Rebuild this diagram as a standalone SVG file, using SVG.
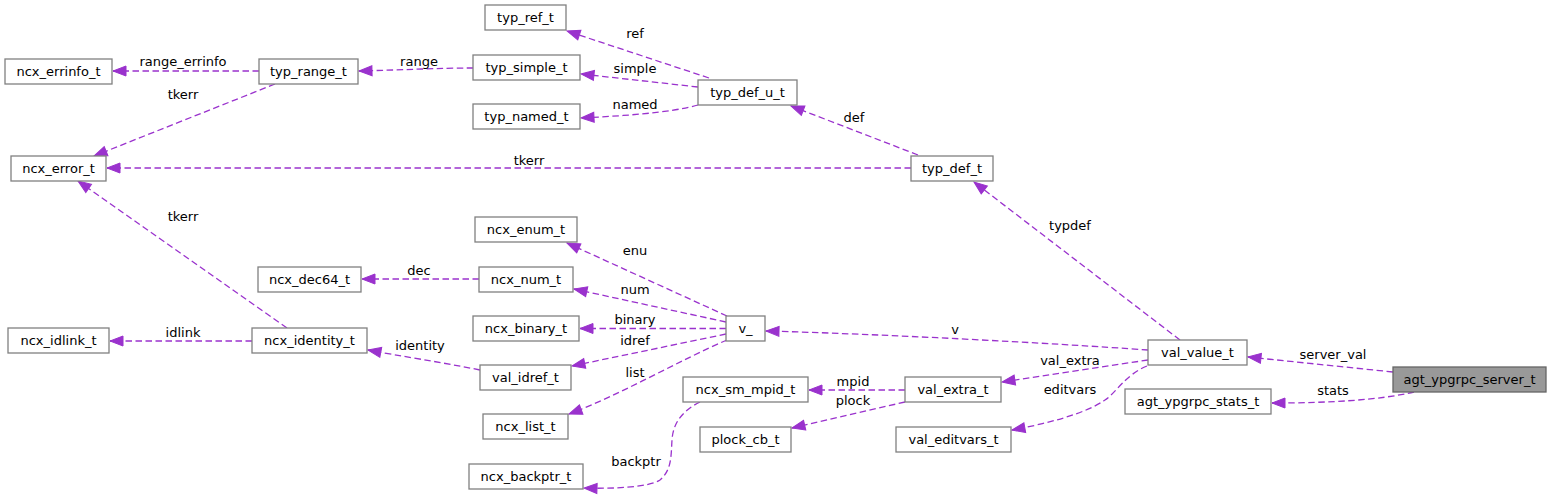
<svg xmlns="http://www.w3.org/2000/svg" width="1551" height="495" viewBox="0 0 1551 495">
<style>
text{font-family:"DejaVu Sans","Liberation Sans",sans-serif;font-size:13px;fill:#000;text-anchor:middle}
.n rect{fill:#fff;stroke:#808080;stroke-width:1.3}
.m rect{fill:#999;stroke:#666;stroke-width:1.3}
.e path{fill:none;stroke:#9a32cd;stroke-width:1.3;stroke-dasharray:6.5,3.5;marker-end:url(#ah)}
</style>
<defs>
<marker id="ah" markerUnits="userSpaceOnUse" markerWidth="14" markerHeight="12" refX="13" refY="5" orient="auto" overflow="visible">
<path d="M0,0 L13,5 L0,10 z" fill="#9a32cd" stroke="#9a32cd" stroke-width="1"/>
</marker>
</defs>
<rect width="1551" height="495" fill="#fff"/>
<g id="edges" class="e">
<path d="M259,71 L113,71"/>
<path d="M275,84 L94,156"/>
<path d="M473,68 C440,68 400,70 359,71"/>
<path d="M709,78 L567,31"/>
<path d="M698,87 L581,74"/>
<path d="M698,105 C670,113 620,116 581,118"/>
<path d="M918,155 L791,106"/>
<path d="M911,168 L107,168"/>
<path d="M1180,340 L974,182"/>
<path d="M1148,350 C1050,343 880,334 766,331"/>
<path d="M1148,360 L1002,382"/>
<path d="M1147,366 C1125,375 1117,392 1105,400 C1085,414 1045,424 1012,430"/>
<path d="M1393,372 L1248,357"/>
<path d="M1414,392 C1380,400 1330,403 1272,403"/>
<path d="M727,316 L567,243"/>
<path d="M726,322 L574,289"/>
<path d="M726,328.5 L580,328.5"/>
<path d="M726,334 L572,366"/>
<path d="M727,340 C680,360 620,395 569,414"/>
<path d="M479,279 L362,279"/>
<path d="M480,370 C440,362 400,356 368,350"/>
<path d="M252,341 L110,341"/>
<path d="M287,328 L78,181"/>
<path d="M905,390 L809,390"/>
<path d="M905,402 L792,428"/>
<path d="M700,402 C680,412 673,425 672,440 C671,455 672,470 660,480 C650,487 615,489 584,488"/>
</g>
<g id="labels">
<text x="183" y="66">range_errinfo</text>
<text x="183" y="99">tkerr</text>
<text x="419" y="66">range</text>
<text x="635" y="38">ref</text>
<text x="635" y="73">simple</text>
<text x="635" y="109">named</text>
<text x="529" y="165">tkerr</text>
<text x="854" y="122">def</text>
<text x="183" y="221">tkerr</text>
<text x="183" y="337">idlink</text>
<text x="419" y="275">dec</text>
<text x="635" y="255">enu</text>
<text x="635" y="294">num</text>
<text x="635" y="324">binary</text>
<text x="420" y="350">identity</text>
<text x="635" y="345">idref</text>
<text x="635" y="377">list</text>
<text x="636" y="466">backptr</text>
<text x="853" y="386">mpid</text>
<text x="853" y="405">plock</text>
<text x="1070" y="230">typdef</text>
<text x="955" y="334">v</text>
<text x="1333" y="359">server_val</text>
<text x="1070" y="365">val_extra</text>
<text x="1070" y="394">editvars</text>
<text x="1333" y="395">stats</text>
</g>
<g id="agt_ypgrpc_server_t" class="m"><rect x="1393" y="367" width="153" height="25"/><text x="1469.5" y="384">agt_ypgrpc_server_t</text></g>
<g id="val_value_t" class="n"><rect x="1148" y="340" width="99" height="25"/><text x="1197.5" y="357">val_value_t</text></g>
<g id="agt_ypgrpc_stats_t" class="n"><rect x="1125" y="389" width="146" height="25"/><text x="1198" y="406">agt_ypgrpc_stats_t</text></g>
<g id="typ_def_t" class="n"><rect x="911" y="156" width="82" height="25"/><text x="952" y="173">typ_def_t</text></g>
<g id="v_" class="n"><rect x="726" y="316" width="39" height="25"/><text x="745.5" y="333">v_</text></g>
<g id="val_extra_t" class="n"><rect x="905" y="377" width="96" height="25"/><text x="953" y="394">val_extra_t</text></g>
<g id="val_editvars_t" class="n"><rect x="896" y="427" width="115" height="25"/><text x="953.5" y="444">val_editvars_t</text></g>
<g id="ncx_error_t" class="n"><rect x="11" y="156" width="95" height="25"/><text x="58.5" y="173">ncx_error_t</text></g>
<g id="typ_def_u_t" class="n"><rect x="698" y="80" width="99" height="25"/><text x="747.5" y="97">typ_def_u_t</text></g>
<g id="typ_ref_t" class="n"><rect x="485" y="5" width="81" height="25"/><text x="525.5" y="22">typ_ref_t</text></g>
<g id="typ_simple_t" class="n"><rect x="473" y="55" width="107" height="25"/><text x="526.5" y="72">typ_simple_t</text></g>
<g id="typ_named_t" class="n"><rect x="473" y="104" width="107" height="25"/><text x="526.5" y="121">typ_named_t</text></g>
<g id="typ_range_t" class="n"><rect x="259" y="59" width="99" height="25"/><text x="308.5" y="76">typ_range_t</text></g>
<g id="ncx_errinfo_t" class="n"><rect x="5" y="59" width="107" height="25"/><text x="58.5" y="76">ncx_errinfo_t</text></g>
<g id="ncx_enum_t" class="n"><rect x="475" y="217" width="102" height="25"/><text x="526" y="234">ncx_enum_t</text></g>
<g id="ncx_num_t" class="n"><rect x="479" y="267" width="94" height="25"/><text x="526" y="284">ncx_num_t</text></g>
<g id="ncx_dec64_t" class="n"><rect x="258" y="267" width="103" height="25"/><text x="309.5" y="284">ncx_dec64_t</text></g>
<g id="ncx_binary_t" class="n"><rect x="473" y="316" width="106" height="25"/><text x="526" y="333">ncx_binary_t</text></g>
<g id="val_idref_t" class="n"><rect x="480" y="365" width="91" height="25"/><text x="525.5" y="382">val_idref_t</text></g>
<g id="ncx_identity_t" class="n"><rect x="252" y="328" width="115" height="25"/><text x="309.5" y="345">ncx_identity_t</text></g>
<g id="ncx_idlink_t" class="n"><rect x="8" y="328" width="101" height="25"/><text x="58.5" y="345">ncx_idlink_t</text></g>
<g id="ncx_list_t" class="n"><rect x="483" y="414" width="85" height="25"/><text x="525.5" y="431">ncx_list_t</text></g>
<g id="ncx_sm_mpid_t" class="n"><rect x="683" y="377" width="125" height="25"/><text x="745.5" y="394">ncx_sm_mpid_t</text></g>
<g id="ncx_backptr_t" class="n"><rect x="469" y="464" width="114" height="25"/><text x="526" y="481">ncx_backptr_t</text></g>
<g id="plock_cb_t" class="n"><rect x="700" y="427" width="91" height="25"/><text x="745.5" y="444">plock_cb_t</text></g>
</svg>
